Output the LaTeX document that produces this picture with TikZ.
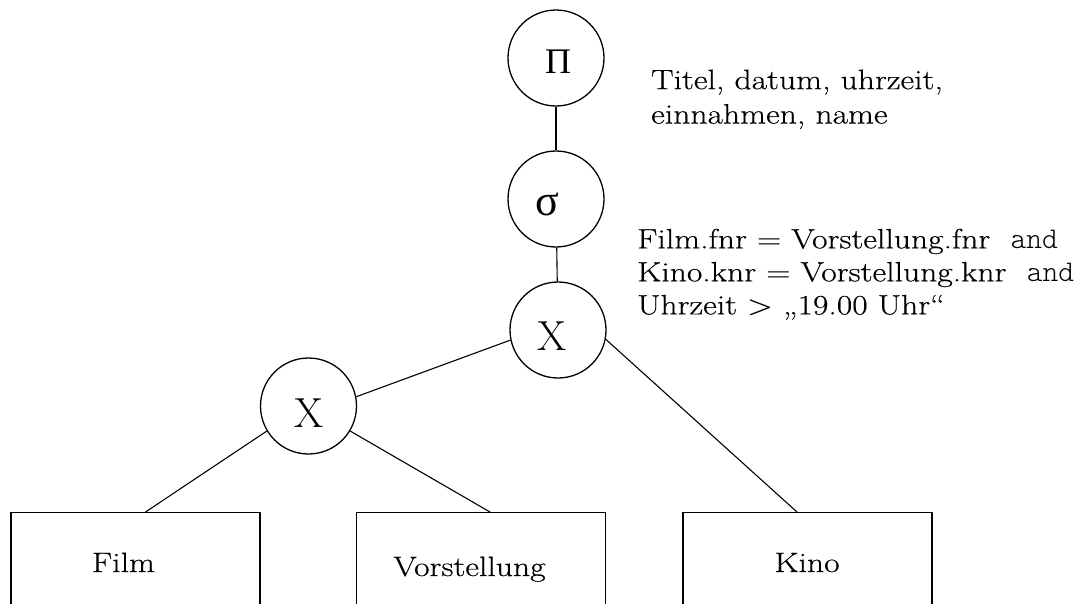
\documentclass[tikz,border=0pt]{standalone}
\usepackage{fontspec}
\setmainfont{Latin Modern Roman}[FakeStretch=1.2,FakeBold=0.4]
\newfontfamily\grk{Liberation Serif}
\newfontfamily\plainlm{Latin Modern Roman}
\newfontfamily\cour{Latin Modern Mono Light}
\usetikzlibrary{calc}
\begin{document}
\begin{tikzpicture}[x=1pt,y=-1pt,
  op/.style={draw,circle,line width=1.3pt,minimum size=96pt,inner sep=0pt},
  rel/.style={draw,rectangle,line width=1.3pt,minimum width=249pt,minimum height=100pt,inner sep=0pt,anchor=north},
  lbl/.style={anchor=base,inner sep=0pt,font=\fontsize{28}{31}\selectfont},
  edge/.style={line width=1.1pt},
  txt/.style={align=left,inner sep=0pt}]
\clip (0,0) rectangle (1088,603);
\node[op,label={[xshift=2pt,yshift=-4pt,font=\grk\fontsize{36}{40}\selectfont]center:Π}] (pi) at (556,58) {};
\node[op,label={[xshift=-9pt,yshift=-5pt,font=\grk\fontsize{44}{48}\selectfont]center:σ}] (sig) at (556,199) {};
\node[op,label={[xshift=-6pt,yshift=-6.5pt,font=\plainlm\fontsize{42}{46}\selectfont]center:X}] (xa) at (558,330) {};
\node[op,label={[xshift=1pt,yshift=-7.5pt,font=\plainlm\fontsize{42}{46}\selectfont]center:X}] (xb) at (308.5,406) {};
\node[rel] (film) at (135.5,512) {};
\node[rel] (vor) at (481,512) {};
\node[rel] (kino) at (807.5,512) {};
\node[lbl] (filmL) at (123.5,572) {Film};
\node[lbl] (vorL) at (469.5,576) {Vorstellung};
\node[lbl] (kinoL) at (807,572) {Kino};
\node[txt,anchor=north west,font=\fontsize{28}{34.4}\selectfont] (attr) at (651,69.5) {Titel, datum, uhrzeit,\\einnahmen, name};
\node[txt,anchor=north west,font=\fontsize{28}{33}\selectfont] (cond) at (637,228.5) {Film.fnr = Vorstellung.fnr \ {\cour\fontsize{30}{33}\selectfont and}\\Kino.knr = Vorstellung.knr \ {\cour\fontsize{30}{33}\selectfont and}\\Uhrzeit > „19.00 Uhr“};
\draw[edge] (pi) -- (sig);
\draw[edge] (sig) -- (xa);
\draw[edge] (xa.192) -- (xb.11);
\draw[edge] (xa.-11) -- ($(kino.north west)!0.458!(kino.north east)$);
\draw[edge] (xb.211) -- ($(film.north west)!0.54!(film.north east)$);
\draw[edge] (xb.329) -- ($(vor.north west)!0.536!(vor.north east)$);
\end{tikzpicture}
\end{document}
